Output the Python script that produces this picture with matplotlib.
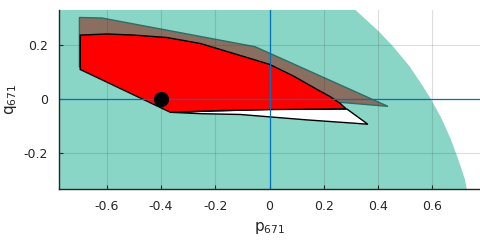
import numpy as np
import matplotlib
matplotlib.use("Agg")
import matplotlib.pyplot as plt

edge_q = [0.34, 0.330, 0.255, 0.200, 0.126, 0.053, 0.000, -0.070, -0.144, -0.217, -0.291, -0.326, -0.34]
edge_p = [0.311, 0.316, 0.398, 0.450, 0.512, 0.561, 0.594, 0.632, 0.665, 0.692, 0.717, 0.724, 0.727]

# brown region
brown_p = [-0.700, -0.617, -0.053, 0.436, 0.270, -0.350, -0.700]
brown_q = [0.302, 0.300, 0.194, -0.026, -0.012, -0.030, 0.120]

# red region
red_p = [-0.697, -0.598, -0.500, -0.378, -0.255, -0.132, 0.000, 0.088, 0.174, 0.223, 0.260, 0.282,
         0.000, -0.200, -0.365, -0.697]
red_q = [0.237, 0.241, 0.237, 0.228, 0.206, 0.169, 0.129, 0.086, 0.037, 0.010, -0.015, -0.035,
         -0.038, -0.042, -0.048, 0.110]

# white region
white_p = [-0.365, 0.000, 0.285, 0.362, 0.309, 0.138, -0.108, -0.255, -0.365]
white_q = [-0.048, -0.037, -0.036, -0.092, -0.088, -0.076, -0.056, -0.053, -0.048]

point_p, point_q = -0.4, 0.0

xticks = [-0.6, -0.4, -0.2, 0, 0.2, 0.4, 0.6]
xticklabels = ['-0.6', '-0.4', '-0.2', '0', '0.2', '0.4', '0.6']
yticks = [-0.2, 0, 0.2]
yticklabels = ['-0.2', '0', '0.2']
xlim = (-0.775, 0.775)
ylim = (-0.331, 0.331)

teal = '#89d6c6'
dark = '#262626'

fig = plt.figure(figsize=(4.8, 2.4), dpi=100)
ax = fig.add_axes([0.123, 0.2125, 0.877, 0.7475])

ax.fill_betweenx(edge_q, xlim[0] - 0.1, edge_p, color=teal, lw=0, zorder=0)
ax.grid(True, color=dark, alpha=0.15, lw=0.8)
ax.set_axisbelow(False)
for gl in ax.get_xgridlines() + ax.get_ygridlines():
    gl.set_zorder(1)

ax.fill(brown_p, brown_q, facecolor='#8a6e60', edgecolor='#2e6e68', lw=1, zorder=2)
ax.fill(white_p, white_q, facecolor='white', edgecolor='black', lw=1, zorder=3)
ax.fill(red_p, red_q, facecolor='#ff0000', edgecolor='black', lw=1, zorder=4)

ax.axhline(0, color='#0072bd', lw=0.9, zorder=5)
ax.axvline(0, color='#0072bd', lw=0.9, zorder=5)
ax.plot(point_p, point_q, 'o', color='black', ms=10, zorder=6)

ax.set_xlim(*xlim)
ax.set_ylim(*ylim)
ax.set_xticks(xticks)
ax.set_xticklabels(xticklabels)
ax.set_yticks(yticks)
ax.set_yticklabels(yticklabels)
ax.tick_params(direction='in', length=3, width=0.8, colors=dark, labelsize=9, pad=8)
for s in ['top', 'right']:
    ax.spines[s].set_visible(False)
for s in ['left', 'bottom']:
    ax.spines[s].set_color(dark)
    ax.spines[s].set_linewidth(1)
    ax.spines[s].set_zorder(7)

ax.set_xlabel('p$_{671}$', fontsize=11, color=dark, labelpad=5)
ax.set_ylabel('q$_{671}$', fontsize=11, color=dark, labelpad=3)

fig.savefig('out.png', dpi=100)
